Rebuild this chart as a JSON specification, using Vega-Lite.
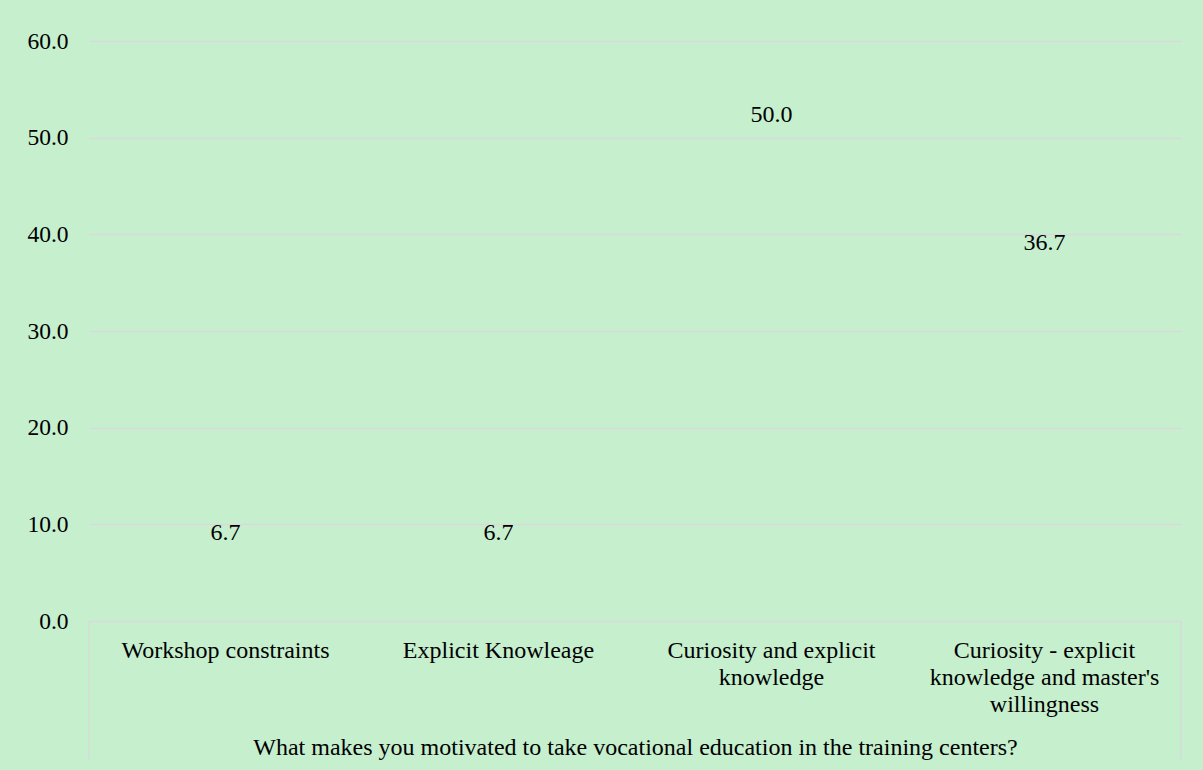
{
  "$schema": "https://vega.github.io/schema/vega-lite/v6.json",
  "width": 1092,
  "height": 580,
  "autosize": {"type": "none"},
  "padding": {"left": 89, "top": 41, "right": 22, "bottom": 149},
  "background": "#C6EFCE",
  "config": {
    "view": {"stroke": null},
    "font": "Liberation Serif",
    "text": {"font": "Liberation Serif"}
  },
  "data": {
    "values": [
      {"motivation": "Workshop constraints", "percent": 6.7},
      {"motivation": "Explicit Knowleage", "percent": 6.7},
      {"motivation": "Curiosity and explicit knowledge", "percent": 50.0},
      {"motivation": "Curiosity - explicit knowledge and master's willingness", "percent": 36.7}
    ]
  },
  "layer": [
    {
      "mark": {"type": "text", "baseline": "middle", "align": "center", "dy": -23, "fontSize": 24, "color": "#000000", "font": "Liberation Serif"},
      "encoding": {
        "x": {
          "field": "motivation",
          "type": "nominal",
          "sort": null,
          "scale": {"paddingInner": 0, "paddingOuter": 0},
          "axis": {
            "title": "What makes you motivated to take vocational education in the training centers?",
            "titleFont": "Liberation Serif",
            "titleFontSize": 24,
            "titleFontWeight": "normal",
            "titleColor": "#000000",
            "titleBaseline": "middle",
            "titleY": 126,
            "labelAngle": 0,
            "labelFont": "Liberation Serif",
            "labelFontSize": 24,
            "labelColor": "#000000",
            "labelPadding": 17,
            "labelLineHeight": 27,
            "labelLimit": 0,
            "labelExpr": "datum.label == 'Curiosity and explicit knowledge' ? ['Curiosity and explicit', 'knowledge'] : datum.label == \"Curiosity - explicit knowledge and master's willingness\" ? ['Curiosity - explicit', \"knowledge and master's\", 'willingness'] : datum.label",
            "domain": false,
            "ticks": false,
            "grid": false
          }
        },
        "y": {
          "field": "percent",
          "type": "quantitative",
          "scale": {"domain": [0, 60], "nice": false},
          "axis": {
            "title": null,
            "values": [0, 10, 20, 30, 40, 50, 60],
            "format": ".1f",
            "labelFont": "Liberation Serif",
            "labelFontSize": 23.5,
            "labelColor": "#000000",
            "labelPadding": 21,
            "domain": false,
            "ticks": false,
            "grid": true,
            "gridColor": "#D9D9D9",
            "gridWidth": 1.3
          }
        },
        "text": {"field": "percent", "type": "quantitative", "format": ".1f"}
      }
    },
    {
      "transform": [{"aggregate": [{"op": "count", "as": "n"}]}],
      "mark": {"type": "rule", "color": "#D9D9D9", "strokeWidth": 1.3},
      "encoding": {
        "x": {"datum": "Workshop constraints", "bandPosition": 0},
        "y": {"datum": 0},
        "y2": {"datum": -14.4}
      }
    },
    {
      "transform": [{"aggregate": [{"op": "count", "as": "n"}]}],
      "mark": {"type": "rule", "color": "#D9D9D9", "strokeWidth": 1.3},
      "encoding": {
        "x": {"datum": "Curiosity - explicit knowledge and master's willingness", "bandPosition": 1},
        "y": {"datum": 0},
        "y2": {"datum": -14.4}
      }
    }
  ]
}
